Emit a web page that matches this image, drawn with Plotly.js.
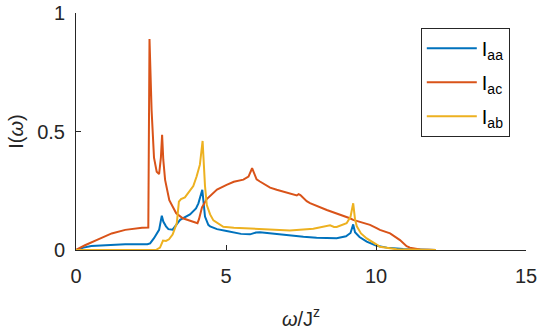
<!DOCTYPE html>
<html>
<head>
<meta charset="utf-8">
<script src="https://cdn.plot.ly/plotly-3.0.1.min.js"></script>
<style>
  html, body { margin: 0; padding: 0; background: #fff; }
  #chart { width: 538px; height: 330px; }
</style>
</head>
<body>
<div id="chart"></div>
<script>
// Spectral weights, omega in units of J^z

const seriesNames = ['I<sub>aa</sub>', 'I<sub>ac</sub>', 'I<sub>ab</sub>'];
const seriesColors = ['#0072BD', '#D95319', '#EDB120'];

// I_aa
const wAA = [0, 0.25, 0.51, 1.07, 1.64, 2.38, 2.47, 2.6, 2.77, 2.86, 2.91, 3.0, 3.08, 3.22, 3.39, 3.47,
  3.8, 4.0, 4.08, 4.21, 4.3, 4.41, 4.47, 4.7, 5.02, 5.5, 5.8, 6.0, 6.13, 6.5, 6.91, 7.58, 8.02, 8.69,
  9.0, 9.15, 9.24, 9.3, 9.45, 9.69, 10.02, 10.36, 10.91, 11.5, 12];
const iAA = [0, 0.01, 0.017, 0.021, 0.024, 0.024, 0.028, 0.05, 0.085, 0.145, 0.12, 0.1, 0.088, 0.086, 0.115, 0.127,
  0.15, 0.175, 0.197, 0.254, 0.141, 0.106, 0.1, 0.088, 0.08, 0.068, 0.066, 0.074, 0.075, 0.07, 0.063, 0.056, 0.052, 0.05,
  0.058, 0.072, 0.108, 0.075, 0.055, 0.035, 0.018, 0.01, 0.004, 0.001, 0];

// I_ac
const wAC = [0, 0.3, 0.74, 1.0, 1.19, 1.64, 1.98, 2.2, 2.41, 2.45, 2.52, 2.6, 2.69, 2.77, 2.83, 2.87, 2.91,
  2.97, 3.11, 3.34, 3.56, 3.8, 4.05, 4.1, 4.2, 4.36, 4.58, 4.7, 5.02, 5.26, 5.58, 5.75, 5.87, 6.02, 6.13,
  6.47, 6.69, 7.0, 7.36, 7.42, 7.48, 7.69, 7.8, 8.36, 8.69, 9.13, 9.24, 9.8, 10.02, 10.13, 10.47, 10.69,
  10.8, 11.02, 11.13, 11.47, 12];
const iAC = [0, 0.02, 0.045, 0.06, 0.07, 0.085, 0.092, 0.094, 0.095, 0.89, 0.59, 0.39, 0.33, 0.32, 0.39, 0.486, 0.38,
  0.296, 0.21, 0.155, 0.134, 0.125, 0.113, 0.13, 0.18, 0.215, 0.24, 0.255, 0.275, 0.288, 0.297, 0.31, 0.345, 0.298, 0.289,
  0.263, 0.254, 0.243, 0.23, 0.236, 0.232, 0.206, 0.198, 0.169, 0.155, 0.134, 0.127, 0.106, 0.092, 0.085, 0.07, 0.05,
  0.042, 0.016, 0.01, 0.002, 0];

// I_ab
const wAB = [0, 1, 2, 2.66, 2.8, 2.86, 2.9, 3.0, 3.1, 3.22, 3.36, 3.43, 3.5, 3.63, 3.79, 3.91, 4.02, 4.13, 4.22,
  4.3, 4.36, 4.47, 4.58, 4.8, 4.91, 5.26, 5.91, 6.47, 7.13, 7.91, 8.3, 8.47, 8.6, 8.69, 9.02, 9.15, 9.24,
  9.3, 9.36, 9.5, 9.69, 10.02, 10.13, 10.69, 12];
const iAB = [0, 0, 0, 0, 0.01, 0.025, 0.04, 0.038, 0.045, 0.065, 0.113, 0.204, 0.215, 0.222, 0.25, 0.27, 0.31, 0.36, 0.46,
  0.27, 0.19, 0.15, 0.125, 0.105, 0.098, 0.094, 0.09, 0.087, 0.082, 0.09, 0.1, 0.104, 0.097, 0.097, 0.113, 0.14, 0.197,
  0.13, 0.1, 0.07, 0.049, 0.021, 0.014, 0.003, 0];

const xTicks = [0, 5, 10, 15];
const yTicks = [0, 0.5, 1];
const yTickText = ['0', '0.5', '1'];

const xs = [wAA, wAC, wAB];
const ys = [iAA, iAC, iAB];

const traces = xs.map((x, k) => ({
  x: x,
  y: ys[k],
  mode: 'lines',
  name: seriesNames[k],
  legendgroup: 'g' + k,
  line: { color: seriesColors[k], width: 2 },
  hoverinfo: 'skip'
}));

const axisColor = '#262626';
const fontFam = "'Liberation Sans', Arial, sans-serif";

const layout = {
  width: 538,
  height: 330,
  paper_bgcolor: '#ffffff',
  plot_bgcolor: '#ffffff',
  font: { family: fontFam, size: 20, color: axisColor },
  margin: { l: 76, r: 12, t: 13, b: 80 },
  showlegend: true,
  legend: {
    x: 0.964, y: 0.938, xanchor: 'right', yanchor: 'top',
    bgcolor: '#ffffff',
    bordercolor: '#262626',
    borderwidth: 1,
    itemwidth: 50,
    font: { family: fontFam, size: 20, color: '#000000' },
    tracegroupgap: 5
  },
  xaxis: {
    range: [0, 15],
    tickvals: xTicks,
    ticks: 'inside',
    ticklen: 5,
    tickcolor: axisColor,
    showline: true,
    linecolor: axisColor,
    linewidth: 1,
    showgrid: false,
    zeroline: false,
    ticklabelstandoff: 8,
    tickfont: { size: 20, color: axisColor },
    title: { text: '<i>ω</i>/J<sup>z</sup>', font: { size: 20, color: axisColor }, standoff: 25 }
  },
  yaxis: {
    range: [0, 1],
    tickvals: yTicks,
    ticktext: yTickText,
    ticks: 'inside',
    ticklen: 5,
    tickcolor: axisColor,
    showline: true,
    linecolor: axisColor,
    linewidth: 1,
    showgrid: false,
    zeroline: false,
    ticklabelstandoff: 6,
    tickfont: { size: 20, color: axisColor },
    title: { text: 'I(<i>ω</i>)', font: { size: 20, color: axisColor }, standoff: 8 }
  }
};

Plotly.newPlot('chart', traces, layout, { staticPlot: true, displayModeBar: false });
</script>
</body>
</html>
